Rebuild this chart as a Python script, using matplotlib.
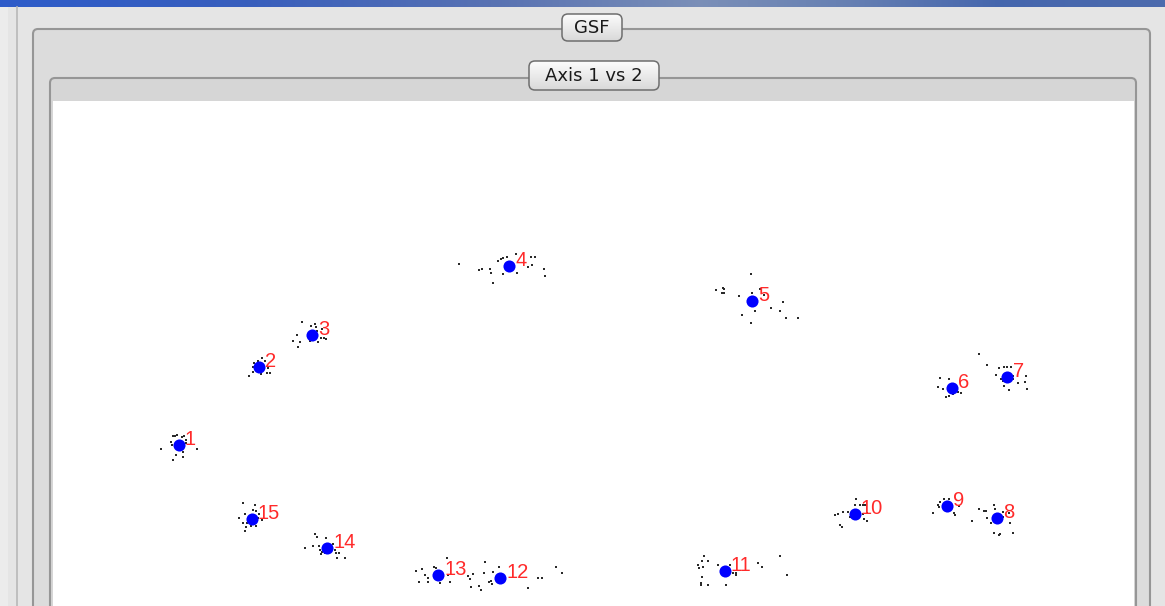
"""Ordination window: group centroids and samples on axis 1 vs axis 2."""

import matplotlib
matplotlib.use("Agg")
import matplotlib.pyplot as plt
import numpy as np
from matplotlib.patches import FancyBboxPatch, Rectangle

W, H = 1165, 606

# group centroids (axis 1, axis 2 as drawn on screen)
group_ids = ["1", "2", "3", "4", "5", "6", "7", "8", "9", "10",
             "11", "12", "13", "14", "15"]
centroid_x = [178.7, 259.3, 312.3, 509.0, 752.3, 951.7, 1007.3, 996.7,
              946.7, 855.0, 724.7, 500.0, 438.3, 327.3, 251.7]
centroid_y = [444.7, 366.7, 335.0, 266.0, 301.0, 388.3, 377.3, 518.3,
              506.0, 514.0, 570.7, 578.0, 575.0, 548.3, 519.3]

# individual samples, listed by group
sample_points = [
    # 1
    (172.7, 435.7), (175.3, 436.0), (177.3, 435.3), (181.7, 437.3), (184.3, 435.7),
    (186.0, 440.0), (186.0, 442.7), (171.0, 442.3), (172.0, 445.0), (161.0, 449.0),
    (196.7, 449.0), (183.3, 452.3), (175.7, 454.7), (183.3, 456.7), (172.7, 459.7),
    # 2
    (262.3, 358.3), (265.0, 360.7), (257.7, 360.7), (254.3, 362.7), (253.3, 366.7),
    (253.3, 371.7), (249.0, 376.0), (261.0, 374.3), (267.7, 368.3), (266.7, 372.7),
    (269.7, 372.7),
    # 3
    (301.7, 321.7), (311.0, 325.7), (315.0, 324.0), (316.0, 326.7), (322.3, 329.0),
    (297.3, 334.7), (293.3, 340.7), (300.0, 342.3), (298.3, 346.7), (310.3, 340.7),
    (317.7, 342.3), (321.0, 338.0), (323.7, 338.0), (325.7, 339.3), (317.0, 330.7),
    # 4
    (458.7, 264.0), (479.3, 270.0), (482.3, 268.7), (490.0, 268.7), (491.0, 273.3),
    (492.7, 283.3), (498.3, 261.3), (500.7, 259.3), (502.7, 258.3), (507.3, 256.7),
    (503.3, 274.3), (516.0, 254.0), (516.7, 272.7), (528.0, 267.3), (530.7, 256.7),
    (535.3, 256.7), (532.0, 265.3), (544.0, 268.7), (545.3, 276.0),
    # 5
    (750.7, 274.3), (715.7, 290.3), (722.7, 287.7), (724.3, 289.3), (721.7, 293.3),
    (724.3, 293.3), (739.3, 296.0), (752.3, 293.3), (760.0, 289.3), (764.3, 294.7),
    (783.0, 302.3), (771.3, 308.3), (780.3, 311.3), (755.3, 311.0), (742.0, 315.3),
    (750.7, 322.7), (786.0, 318.3), (797.7, 318.3),
    # 6
    (940.0, 378.3), (949.0, 379.3), (938.3, 387.3), (942.7, 389.3), (956.0, 387.3),
    (957.7, 391.7), (960.7, 392.7), (946.0, 397.3), (949.3, 396.0), (952.7, 394.3),
    # 7
    (979.3, 354.0), (986.7, 365.0), (999.0, 368.3), (996.0, 375.0), (1004.3, 366.7),
    (1007.3, 366.7), (1010.7, 366.7), (1001.0, 379.3), (1002.7, 381.3), (1013.3, 379.3),
    (1013.3, 375.7), (1004.3, 386.0), (1009.3, 390.0), (1017.7, 382.7), (1026.0, 375.7),
    (1025.0, 381.7), (1026.7, 388.7),
    # 8
    (979.3, 509.3), (984.0, 510.7), (986.0, 510.7), (994.0, 505.0), (995.0, 509.3),
    (986.7, 517.7), (990.7, 522.7), (1002.7, 511.7), (1009.3, 513.3), (1002.7, 517.3),
    (1010.0, 523.3), (971.7, 521.0), (994.0, 532.7), (1000.0, 534.0), (999.3, 535.0),
    (1013.3, 533.3),
    # 9
    (940.0, 501.7), (937.7, 505.0), (939.3, 507.3), (944.3, 499.3), (949.3, 499.3),
    (950.7, 504.0), (954.0, 512.7), (955.0, 515.0), (959.3, 506.0), (932.7, 513.3),
    # 10
    (856.0, 499.3), (855.0, 505.0), (860.0, 505.0), (863.3, 505.0), (865.0, 505.0),
    (835.0, 515.3), (838.3, 514.3), (842.7, 512.0), (848.3, 512.3), (850.0, 517.3),
    (862.7, 514.3), (866.7, 513.3), (864.3, 519.3), (866.7, 520.7), (840.0, 525.0),
    (842.0, 526.7),
    # 11
    (704.0, 556.0), (702.3, 560.7), (708.0, 560.7), (698.3, 565.0), (699.3, 568.0),
    (702.7, 566.7), (718.3, 565.0), (730.0, 565.0), (732.7, 572.7), (735.7, 572.7),
    (736.0, 575.3), (702.0, 577.0), (701.0, 582.7), (701.0, 585.3), (708.3, 585.3),
    (725.7, 585.3), (758.0, 563.3), (762.3, 566.7), (780.0, 556.0), (787.3, 575.0),
    # 12 and 13
    (416.0, 571.0), (422.3, 569.3), (419.0, 581.7), (425.0, 575.0), (428.3, 578.3),
    (428.3, 581.7), (434.3, 566.7), (435.7, 568.3), (440.0, 583.3), (446.7, 557.7),
    (448.3, 575.0), (450.0, 581.7), (468.3, 576.0), (470.0, 579.3), (473.3, 574.0),
    (470.7, 587.3), (479.3, 585.7), (481.0, 590.0), (485.3, 562.3), (484.0, 572.7),
    (489.3, 581.7), (491.0, 581.0), (491.7, 584.3), (493.3, 571.7), (498.7, 566.7),
    (527.7, 588.3), (538.3, 578.3), (541.7, 578.3), (555.7, 566.7), (561.7, 572.7),
    # 14
    (315.0, 534.3), (316.7, 536.7), (326.0, 537.7), (305.0, 547.7), (312.7, 545.7),
    (319.3, 545.7), (320.0, 550.0), (321.7, 552.3), (325.0, 553.3), (333.3, 544.3),
    (335.0, 550.0), (336.0, 553.3), (339.3, 553.3), (345.0, 557.7), (336.7, 557.7),
    (321.0, 554.3),
    # 15
    (243.3, 503.3), (254.7, 505.0), (253.3, 510.0), (256.0, 511.0), (239.0, 518.3),
    (245.0, 514.3), (259.3, 514.3), (258.3, 517.7), (261.7, 520.3), (242.7, 523.3),
    (247.3, 523.3), (246.0, 527.3), (250.7, 525.7), (256.0, 525.7), (245.0, 531.0),
]

panel_title = "GSF"
view_title = "Axis 1 vs 2"


def draw_button(ax, x0, y0, w, h, text):
    """Aqua-style rounded push button with a soft vertical gradient."""
    box = FancyBboxPatch((x0, y0), w, h, boxstyle="round,pad=0,rounding_size=6",
                         facecolor="none", edgecolor="#6e6e6e", linewidth=1.1, zorder=6)
    ax.add_patch(box)
    shade = np.linspace(0.99, 0.85, 64).reshape(-1, 1)
    grad = ax.imshow(np.dstack([shade, shade, shade]), extent=(x0, x0 + w, y0 + h, y0),
                     aspect="auto", zorder=5, interpolation="bilinear")
    grad.set_clip_path(box)
    ax.text(x0 + w / 2, y0 + h / 2 + 0.5, text, ha="center", va="center",
            fontsize=13, family="DejaVu Sans", color="#1a1a1a", zorder=7)


def draw_group_box(ax, x0, y0, x1, face):
    box = FancyBboxPatch((x0, y0), x1 - x0, H + 20 - y0,
                         boxstyle="round,pad=0,rounding_size=5",
                         facecolor=face, edgecolor="#969696", linewidth=1.5, zorder=2)
    ax.add_patch(box)


fig = plt.figure(figsize=(W / 100, H / 100), dpi=100)
fig.patch.set_facecolor("#e5e5e5")

# window chrome, drawn in screen units
chrome = fig.add_axes([0, 0, 1, 1])
chrome.set_xlim(0, W)
chrome.set_ylim(H, 0)
chrome.axis("off")

bar_x = np.array([0, 250, 500, 700, 850, 1000, 1165])
bar_rgb = np.array([
    [0.18, 0.36, 0.79],
    [0.22, 0.37, 0.74],
    [0.35, 0.45, 0.70],
    [0.48, 0.56, 0.72],
    [0.40, 0.50, 0.70],
    [0.27, 0.40, 0.68],
    [0.30, 0.42, 0.68],
])
cols = np.arange(W)
bar = np.stack([np.interp(cols, bar_x, bar_rgb[:, i]) for i in range(3)], axis=-1)
chrome.imshow(bar[np.newaxis, :, :], extent=(0, W, 7, 0), aspect="auto", zorder=1)

chrome.add_patch(Rectangle((0, 7), 8, H, facecolor="#ececec", edgecolor="none", zorder=1))
chrome.plot([17, 17], [7, H], color="#b8b8b8", linewidth=1.2, zorder=1)

draw_group_box(chrome, 33, 29, 1150, "#dcdcdc")
draw_group_box(chrome, 50, 78, 1136, "#d6d6d6")
draw_button(chrome, 562, 14, 60, 27, panel_title)
draw_button(chrome, 529, 61, 130, 29, view_title)

# scatter view
ax = fig.add_axes([53 / W, 0, (1134 - 53) / W, (H - 101) / H])
ax.set_facecolor("white")
ax.set_xlim(53, 1134)
ax.set_ylim(H, 101)
ax.set_xticks([])
ax.set_yticks([])
for spine in ax.spines.values():
    spine.set_visible(False)

sx = [p[0] for p in sample_points]
sy = [p[1] for p in sample_points]
ax.plot(sx, sy, linestyle="none", marker="s", markersize=1.7,
        color="#2a2a2a", markeredgewidth=0, zorder=2)
ax.plot(centroid_x, centroid_y, linestyle="none", marker="o", markersize=8.7,
        color="#0000ff", markeredgewidth=0, zorder=3)

for gid, cx, cy in zip(group_ids, centroid_x, centroid_y):
    ax.annotate(gid, (cx, cy), xytext=(6, 0), textcoords="offset pixels",
                ha="left", va="baseline", fontsize=14.5, family="Liberation Sans",
                color="#ff2a2a", zorder=4)

fig.savefig("out.png", dpi=100, facecolor=fig.get_facecolor())
